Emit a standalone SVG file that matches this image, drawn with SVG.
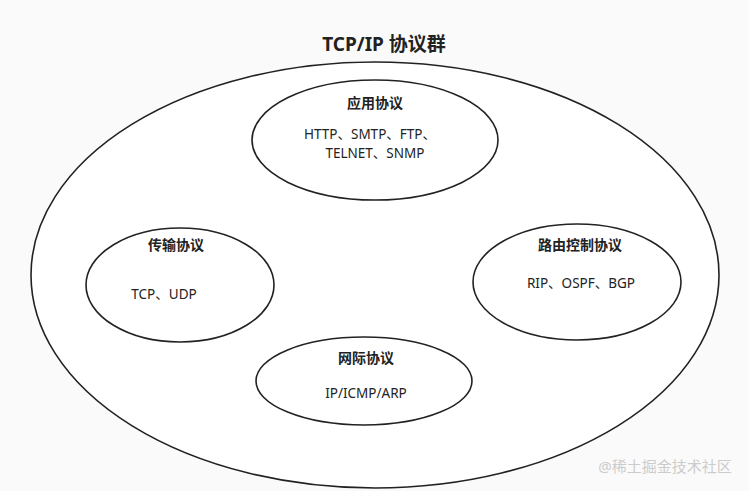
<svg xmlns="http://www.w3.org/2000/svg" width="749" height="491" viewBox="0 0 749 491">
<style>
.e{fill:#fff;stroke:#222;stroke-width:1.6}
text{font-family:"Noto Sans","Noto Sans CJK SC",sans-serif;fill:#222;text-anchor:middle}
.h{font-size:14px;font-weight:bold}
.t{font-size:13.5px}
</style>
<rect width="749" height="491" fill="#fafafa"/>
<text x="384" y="51" style="font-size:19px;font-weight:bold">TCP/IP 协议群</text>
<g id="outer"><ellipse class="e" cx="375" cy="275" rx="344" ry="213"/></g>
<g id="app"><ellipse class="e" cx="375" cy="140" rx="123" ry="60"/>
<text class="h" x="375" y="108">应用协议</text>
<text class="t" x="370" y="139">HTTP、SMTP、FTP、</text>
<text class="t" x="375" y="158">TELNET、SNMP</text></g>
<g id="transport"><ellipse class="e" cx="180" cy="285" rx="94" ry="57"/>
<text class="h" x="176" y="250">传输协议</text>
<text class="t" x="164" y="299">TCP、UDP</text></g>
<g id="routing"><ellipse class="e" cx="577" cy="282" rx="104" ry="58"/>
<text class="h" x="580" y="250">路由控制协议</text>
<text class="t" x="581" y="288">RIP、OSPF、BGP</text></g>
<g id="network"><ellipse class="e" cx="364" cy="381" rx="108" ry="44"/>
<text class="h" x="366" y="363">网际协议</text>
<text class="t" x="366" y="398">IP/ICMP/ARP</text></g>
<g id="connectors"/>
<text x="665" y="472" style="font-size:15px;fill:#ccc">@稀土掘金技术社区</text>
</svg>
